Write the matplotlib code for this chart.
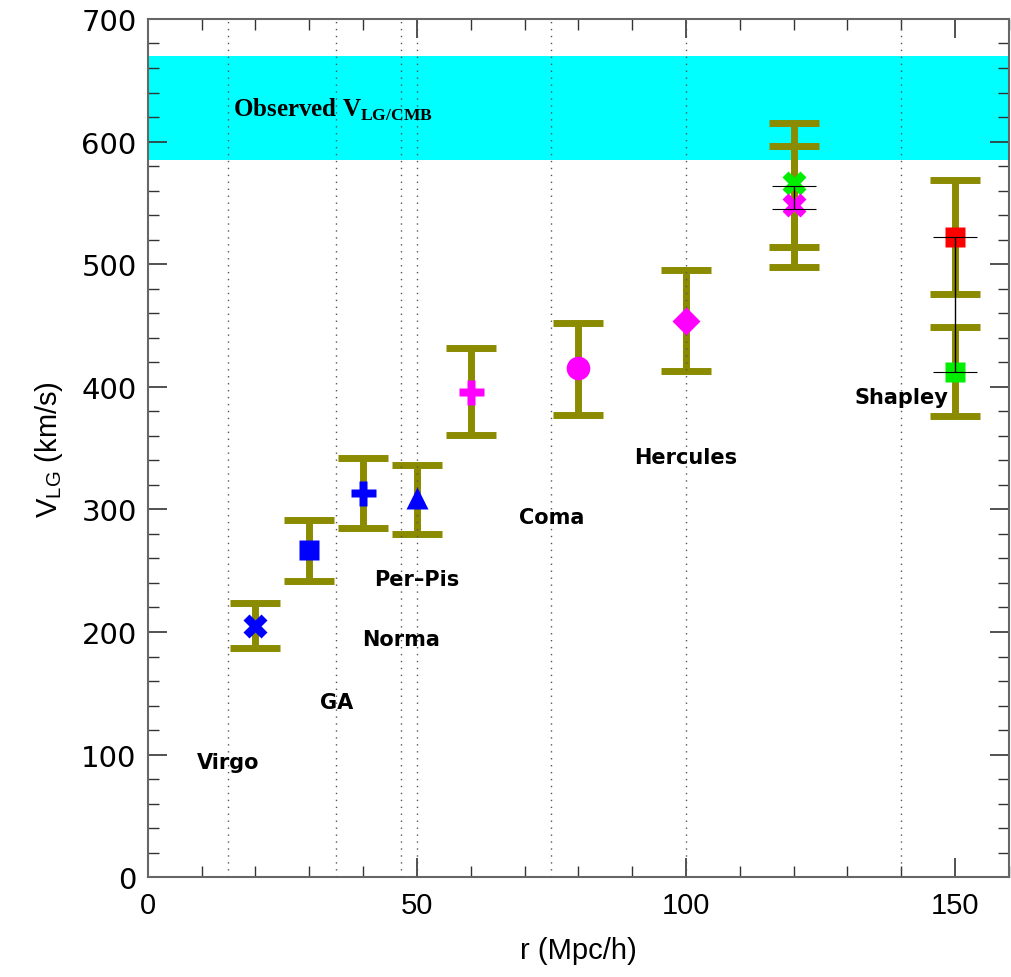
import matplotlib
matplotlib.use("Agg")
import matplotlib.pyplot as plt
from matplotlib.ticker import MultipleLocator

plt.rcParams['mathtext.fontset'] = 'custom'
plt.rcParams['mathtext.rm'] = 'Liberation Serif'
plt.rcParams['mathtext.bf'] = 'Liberation Serif:bold'
plt.rcParams['mathtext.sf'] = 'Liberation Sans'

# data
r_vals = [20, 30, 40, 50, 60, 80, 100]
v_vals = [205, 267, 313, 309, 396, 415, 454]
v_lo = [187, 242, 285, 280, 361, 377, 413]
v_hi = [224, 291, 342, 336, 432, 452, 495]
markers = ['X', 's', 'P', '^', 'P', 'o', 'D']
colors = ['blue', 'blue', 'blue', 'blue', 'magenta', 'magenta', 'magenta']

r120 = [120, 120]
v120 = [566, 548]
v120_lo = [514, 498]
v120_hi = [615, 596]
c120 = ['#00ee00', 'magenta']

r150 = [150, 150]
v150 = [522, 412]
v150_lo = [476, 376]
v150_hi = [569, 449]
c150 = ['red', '#00ee00']

black_bars_x = [120, 150]
black_bars_lo = [545, 412]
black_bars_hi = [564, 522]

band_lo, band_hi = 585, 670
cluster_r = [15, 35, 47, 50, 75, 100, 140]
cluster_names = ['Virgo', 'GA', 'Norma', 'Per\u2013Pis', 'Coma', 'Hercules', 'Shapley']
cluster_label_v = [94, 143, 194, 243, 294, 343, 392]
cluster_label_r = [15, 35, 47, 50, 75, 100, 140]

olive = '#8b8b00'

fig = plt.figure(figsize=(10.12, 9.78), dpi=100)
ax = fig.add_axes([0.146, 0.102, 0.851, 0.8776])
ax.set_xlim(0, 160)
ax.set_ylim(0, 700)

ax.axhspan(band_lo, band_hi, color='cyan', zorder=0, lw=0)
ax.text(15.8, 627, r'Observed V$_{\mathbf{LG/CMB}}$', family='Liberation Serif',
        fontweight='bold', fontsize=18, va='center', ha='left', zorder=5)

def ebar(x, y, lo, hi, color, marker, ms=16):
    ax.errorbar([x], [y], yerr=[[y - lo], [hi - y]], fmt='none', ecolor=olive,
                elinewidth=5, capsize=18, capthick=5, zorder=2)
    ax.plot([x], [y], marker=marker, color=color, ms=ms, mec='none', ls='none', zorder=4)

sizes = [17, 14, 18, 16, 18, 17, 14]
for x, y, lo, hi, m, c, s in zip(r_vals, v_vals, v_lo, v_hi, markers, colors, sizes):
    ebar(x, y, lo, hi, c, m, s)
for x, y, lo, hi, c in zip(r120, v120, v120_lo, v120_hi, c120):
    ebar(x, y, lo, hi, c, 'X', 17)
for x, y, lo, hi, c in zip(r150, v150, v150_lo, v150_hi, c150):
    ebar(x, y, lo, hi, c, 's', 14)
for x, lo, hi in zip(black_bars_x, black_bars_lo, black_bars_hi):
    mid = (lo + hi) / 2
    ax.errorbar([x], [mid], yerr=[[mid - lo], [hi - mid]], fmt='none', ecolor='black',
                elinewidth=1, capsize=16, capthick=0.8, zorder=5)

for r in cluster_r:
    ax.axvline(r, color='#555555', ls=(0, (1, 4)), lw=1, zorder=3)

for name, x, y in zip(cluster_names, cluster_label_r, cluster_label_v):
    ax.text(x, y, name, ha='center', va='center', fontsize=15, fontweight='bold',
            family='DejaVu Sans', zorder=6)

ax.xaxis.set_major_locator(MultipleLocator(50))
ax.xaxis.set_minor_locator(MultipleLocator(10))
ax.yaxis.set_major_locator(MultipleLocator(100))
ax.yaxis.set_minor_locator(MultipleLocator(20))
ax.tick_params(which='both', direction='in', top=True, right=True, color='#333333')
ax.tick_params(which='major', length=14, width=1.2)
ax.tick_params(which='minor', length=8, width=1)
ax.tick_params(axis='y', labelsize=21, pad=8)
ax.tick_params(axis='x', labelsize=21, pad=10)
for lab in ax.get_xticklabels():
    lab.set_family('Liberation Sans')
for s in ax.spines.values():
    s.set_color('#666666')
    s.set_linewidth(1.5)

ax.set_xlabel('r (Mpc/h)', fontsize=21, family='Liberation Sans', labelpad=12)
ax.set_ylabel(r'V$_{\mathsf{LG}}$ (km/s)', fontsize=21, family='Liberation Sans', labelpad=12)

fig.savefig('out.png', dpi=100)
